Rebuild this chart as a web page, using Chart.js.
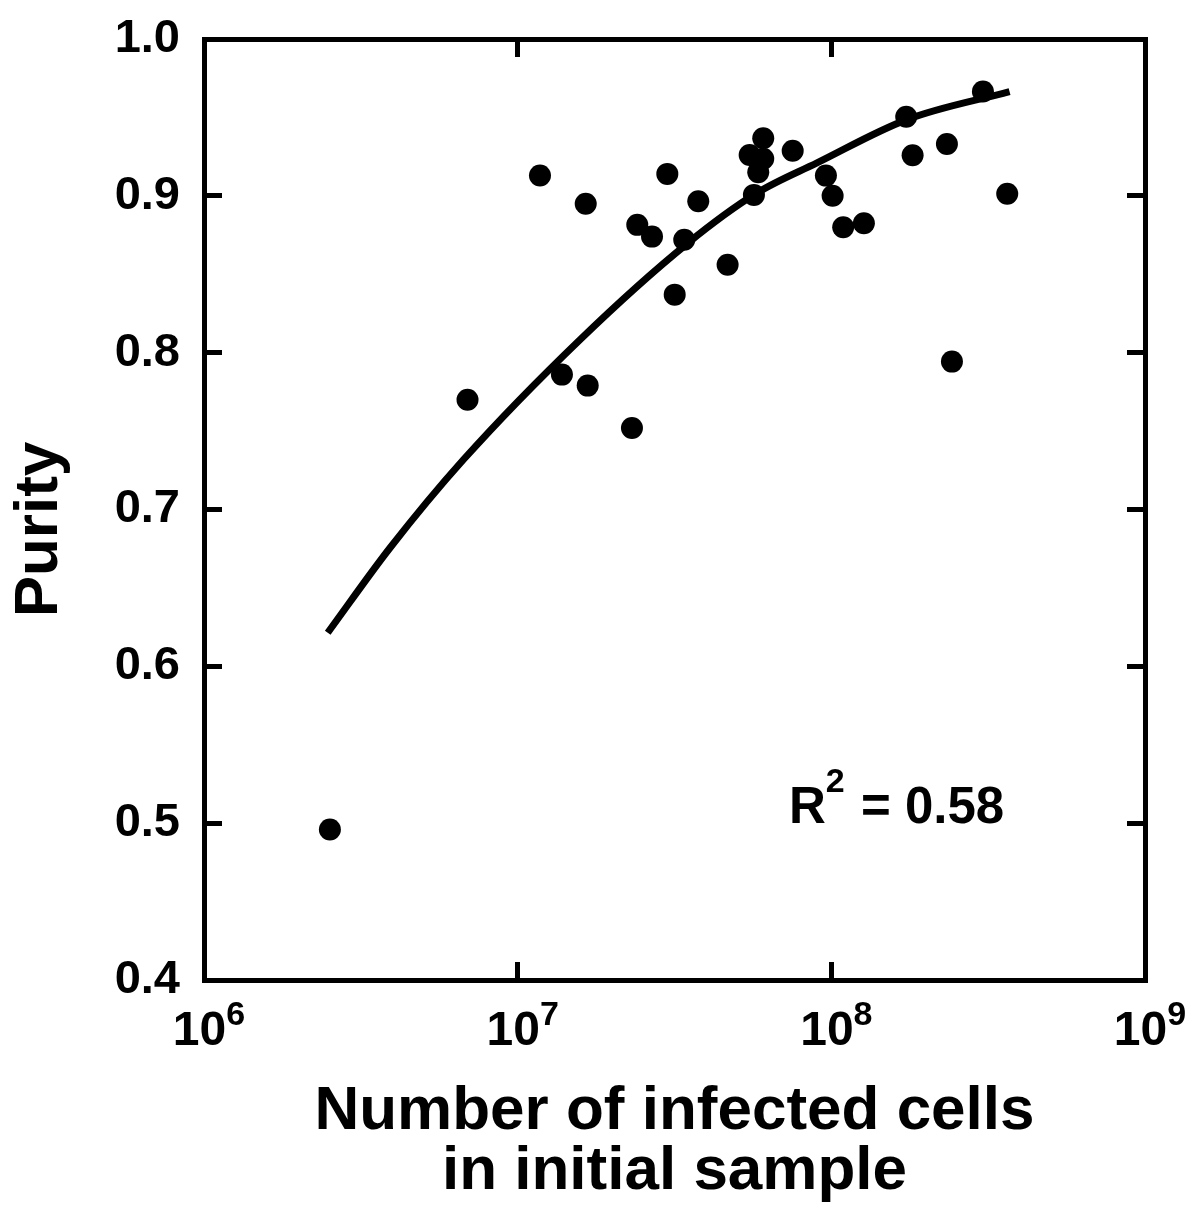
<!DOCTYPE html>
<html>
<head>
<meta charset="utf-8">
<script src="https://cdn.jsdelivr.net/npm/chart.js@4.4.1/dist/chart.umd.min.js"></script>
<style>
  html, body { margin: 0; padding: 0; background: #ffffff; }
  #wrap { width: 1200px; height: 1226px; }
</style>
</head>
<body>
<div id="wrap"><canvas id="chart" width="1200" height="1226"></canvas></div>
<script>
// ---- Data ----
const cellCounts = [2.52e6, 6.92e6, 1.178e7, 1.384e7, 1.648e7, 1.672e7, 2.314e7, 2.406e7, 2.681e7, 3.0e7,
                    3.167e7, 3.397e7, 3.765e7, 4.67e7, 5.49e7, 5.665e7, 5.848e7, 6.066e7, 6.066e7, 7.53e7,
                    9.61e7, 1.0095e8, 1.091e8, 1.27e8, 1.733e8, 1.816e8, 2.336e8, 2.424e8, 3.043e8, 3.637e8];
const purity = [0.496, 0.770, 0.913, 0.786, 0.895, 0.779, 0.752, 0.8815, 0.874, 0.914,
                0.837, 0.872, 0.8965, 0.856, 0.926, 0.9006, 0.915, 0.9236, 0.9367, 0.9287,
                0.9129, 0.900, 0.880, 0.8825, 0.9504, 0.9259, 0.9331, 0.7943, 0.9665, 0.9013];
// fitted curve
const fitCellCounts = [2.48e6, 3.92e6, 6.71e6, 1.58e7, 3.47e7, 5.80e7, 9.0e7, 1.74e8, 3.70e8];
const fitPurity     = [0.6214, 0.6756, 0.7317, 0.8083, 0.8695, 0.9019, 0.921, 0.9486, 0.9665];
const xTickValues = [1e6, 1e7, 1e8, 1e9];
const yTickValues = [0.4, 0.5, 0.6, 0.7, 0.8, 0.9, 1.0];
const xTitle = ['Number of infected cells', 'in initial sample'];
const yTitle = 'Purity';
const r2Base = 'R';
const r2Exp = '2';
const r2Rest = ' = 0.58';
const r2Anchor = { x: 7.33e7, y: 0.5 };

// ---- Chart ----
const FONT = '"Liberation Sans", Arial, Helvetica, sans-serif';

const frameGrid = { drawOnChartArea: false, drawTicks: true, tickLength: -18, tickWidth: 5, lineWidth: 5, color: '#000', tickColor: '#000' };
const frameBorder = { display: true, color: '#000', width: 5 };

function fixBox(w, h) {
  return s => {
    if (w !== null) s.width = w;
    if (h !== null) s.height = h;
    s.paddingTop = 0; s.paddingBottom = 0; s.paddingLeft = 0; s.paddingRight = 0;
  };
}

const textPlugin = {
  id: 'textPlugin',
  afterDraw(chart) {
    const { ctx, scales: { x, y }, chartArea } = chart;
    ctx.save();
    ctx.fillStyle = '#000';
    ctx.textAlign = 'left';
    ctx.textBaseline = 'alphabetic';
    // x tick labels: 10 with superscript exponent
    xTickValues.forEach(v => {
      const px = x.getPixelForValue(v);
      const exp = String(Math.round(Math.log10(v)));
      ctx.font = `bold 48px ${FONT}`;
      const wb = ctx.measureText('10').width;
      ctx.font = `bold 34px ${FONT}`;
      const we = ctx.measureText(exp).width;
      const start = px - (wb + we) / 2 + 5;
      ctx.font = `bold 48px ${FONT}`;
      ctx.fillText('10', start, chartArea.bottom + 65);
      ctx.font = `bold 34px ${FONT}`;
      ctx.fillText(exp, start + wb, chartArea.bottom + 45);
    });
    // y axis title
    ctx.save();
    ctx.translate(57, (chartArea.top + chartArea.bottom) / 2 + 20);
    ctx.rotate(-Math.PI / 2);
    ctx.textAlign = 'center';
    ctx.font = `bold 62px ${FONT}`;
    ctx.fillText(yTitle, 0, 0);
    ctx.restore();
    // R^2 annotation
    const ax = x.getPixelForValue(r2Anchor.x);
    const ay = y.getPixelForValue(r2Anchor.y);
    ctx.font = `bold 51px ${FONT}`;
    ctx.fillText(r2Base, ax, ay);
    const wR = ctx.measureText(r2Base).width;
    ctx.font = `bold 34px ${FONT}`;
    ctx.fillText(r2Exp, ax + wR, ay - 31);
    const w2 = ctx.measureText(r2Exp).width;
    ctx.font = `bold 51px ${FONT}`;
    ctx.fillText(r2Rest, ax + wR + w2 + 2, ay);
    ctx.restore();
  }
};

new Chart(document.getElementById('chart'), {
  type: 'scatter',
  data: {
    datasets: [
      {
        label: 'Samples',
        data: cellCounts.map((v, i) => ({ x: v, y: purity[i] })),
        pointRadius: 11,
        pointHoverRadius: 11,
        pointBackgroundColor: '#000',
        pointBorderWidth: 0,
        backgroundColor: '#000',
        borderColor: '#000',
        showLine: false,
        order: 0
      },
      {
        label: 'Fit',
        data: fitCellCounts.map((v, i) => ({ x: v, y: fitPurity[i] })),
        showLine: true,
        borderColor: '#000',
        borderWidth: 7,
        pointRadius: 0,
        pointHoverRadius: 0,
        cubicInterpolationMode: 'monotone',
        fill: false,
        order: 1
      }
    ]
  },
  options: {
    responsive: false,
    animation: false,
    devicePixelRatio: 1,
    events: [],
    layout: { padding: 0 },
    plugins: { legend: { display: false }, tooltip: { enabled: false } },
    scales: {
      x: {
        type: 'logarithmic', position: 'bottom', min: 1e6, max: 1e9,
        afterBuildTicks: s => { s.ticks = xTickValues.map(v => ({ value: v })); },
        afterFit: fixBox(null, 246),
        grid: frameGrid, border: frameBorder,
        ticks: { display: false },
        title: {
          display: true, text: xTitle, color: '#000',
          font: { family: FONT, size: 62, weight: 'bold', lineHeight: 0.968 },
          padding: { top: 0, bottom: 24 }
        }
      },
      x2: {
        type: 'logarithmic', position: 'top', min: 1e6, max: 1e9,
        afterBuildTicks: s => { s.ticks = xTickValues.map(v => ({ value: v })); },
        afterFit: fixBox(null, 39),
        grid: frameGrid, border: frameBorder,
        ticks: { display: false }
      },
      y: {
        type: 'linear', position: 'left', min: 0.4, max: 1.0,
        afterBuildTicks: s => { s.ticks = yTickValues.map(v => ({ value: v })); },
        afterFit: fixBox(204, null),
        grid: frameGrid, border: frameBorder,
        ticks: {
          color: '#000', padding: 42,
          font: { family: FONT, size: 47, weight: 'bold' },
          callback: v => Number(v).toFixed(1)
        }
      },
      y2: {
        type: 'linear', position: 'right', min: 0.4, max: 1.0,
        afterBuildTicks: s => { s.ticks = yTickValues.map(v => ({ value: v })); },
        afterFit: fixBox(55, null),
        grid: frameGrid, border: frameBorder,
        ticks: { display: false }
      }
    }
  },
  plugins: [textPlugin]
});
</script>
</body>
</html>
